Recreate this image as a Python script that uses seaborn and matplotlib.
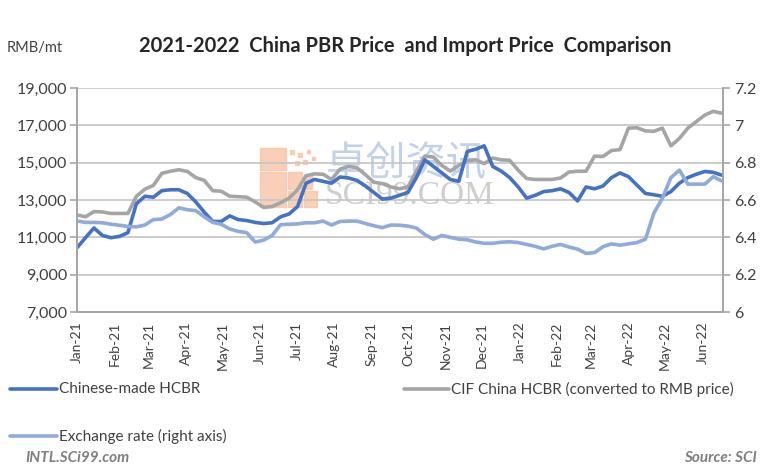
import numpy as np
import pandas as pd
import seaborn as sns
import matplotlib.pyplot as plt
import matplotlib.dates as mdates
from matplotlib.lines import Line2D
from matplotlib.patches import Rectangle
from matplotlib.ticker import FixedLocator, FuncFormatter

# weekly prices, Jan 1 2021 to Jun 17 2022
dates = pd.date_range("2021-01-01", periods=77, freq="7D")

chinese_made = [10440, 10980, 11500, 11100, 10980, 11050, 11250, 12800, 13200, 13150,
                13500, 13550, 13550, 13350, 12900, 12350, 11850, 11850, 12150, 11950,
                11900, 11800, 11740, 11780, 12100, 12250, 12650, 13900, 14100, 14000,
                13900, 14230, 14180, 14050, 13750, 13400, 13050, 13100, 13250, 13400,
                14200, 15150, 14800, 14450, 14100, 14000, 15600, 15720, 15900, 14800,
                14550, 14200, 13700, 13100, 13250, 13450, 13500, 13600, 13400, 12950,
                13700, 13600, 13750, 14200, 14450, 14250, 13800, 13350, 13280, 13200,
                13450, 13900, 14200, 14380, 14530, 14480, 14330]

cif_china = [12200, 12100, 12380, 12360, 12280, 12280, 12280, 13200, 13580, 13780,
             14430, 14540, 14620, 14530, 14200, 14050, 13500, 13470, 13200, 13180,
             13150, 12900, 12600, 12650, 12850, 13100, 13550, 14300, 14400, 14380,
             14100, 14650, 14800, 14730, 14350, 13950, 13880, 13700, 13600, 13700,
             14550, 15350, 15300, 14850, 14550, 14850, 15100, 15150, 14950, 15250,
             15150, 15130, 14600, 14150, 14100, 14100, 14100, 14180, 14500, 14540,
             14540, 15350, 15330, 15650, 15700, 16850, 16870, 16700, 16680, 16850,
             15900, 16300, 16850, 17200, 17550, 17750, 17650]

exchange_rate = [6.488, 6.480, 6.480, 6.478, 6.470, 6.465, 6.458, 6.456, 6.466, 6.495,
                 6.498, 6.522, 6.558, 6.548, 6.543, 6.510, 6.480, 6.470, 6.445, 6.432,
                 6.425, 6.375, 6.385, 6.410, 6.468, 6.470, 6.472, 6.478, 6.478, 6.487,
                 6.466, 6.485, 6.487, 6.487, 6.474, 6.462, 6.452, 6.466, 6.465, 6.460,
                 6.450, 6.415, 6.390, 6.410, 6.400, 6.390, 6.387, 6.375, 6.368, 6.368,
                 6.374, 6.376, 6.372, 6.362, 6.352, 6.338, 6.352, 6.362, 6.348, 6.337,
                 6.314, 6.318, 6.350, 6.365, 6.358, 6.365, 6.372, 6.390, 6.530, 6.610,
                 6.720, 6.760, 6.685, 6.685, 6.685, 6.725, 6.702]

left_ticks = [7000, 9000, 11000, 13000, 15000, 17000, 19000]
right_ticks = [6.0, 6.2, 6.4, 6.6, 6.8, 7.0, 7.2]

labels = ["Chinese-made HCBR", "CIF China HCBR (converted to RMB price)", "Exchange rate (right axis)"]
colors = ["#4472C4", "#A5A5A5", "#8FAADC"]

df = pd.DataFrame({"date": dates, "chinese": chinese_made, "cif": cif_china, "fx": exchange_rate})

sns.set_style("white")
plt.rcParams["font.family"] = ["Lato", "DejaVu Sans"]
txt = "#404040"
axis_col = "#A6A6A6"

W, H = 768, 472
fig = plt.figure(figsize=(W / 100, H / 100), dpi=100)


def fx_(px):
    return px / W


def fy_(py):
    return 1 - py / H


ax = fig.add_axes([fx_(77), fy_(312), fx_(723) - fx_(77), fy_(88) - fy_(312)])
ax.patch.set_alpha(0)

# watermark, kept behind the axes
wm = "#F8C3A5"
for (x0, y0, w, h) in [(260, 148, 26, 22), (260, 172, 26, 35), (288, 172, 14, 17),
                       (288, 191, 14, 16), (304, 191, 13, 16), (304, 175, 8, 14),
                       (290, 150, 4, 4), (298, 153, 4, 4), (307, 150, 3, 3),
                       (295, 161, 4, 4), (303, 160, 4, 4), (312, 157, 3, 3)]:
    fig.patches.append(Rectangle((fx_(x0), fy_(y0 + h)), fx_(w), h / H,
                                 transform=fig.transFigure, color=wm, alpha=0.8, zorder=-5))
fig.text(fx_(326), fy_(163), "卓创资讯", family=["Noto Sans CJK SC"], fontsize=29,
         color="#B4C7E7", alpha=0.8, va="center", ha="left", zorder=-5)
fig.text(fx_(325), fy_(196), "SCI99.COM", family=["Liberation Serif"], fontsize=24,
         color="#CFCFCF", va="center", ha="left", zorder=-5)

sns.lineplot(data=df, x="date", y="chinese", ax=ax, color=colors[0], lw=2.6, zorder=3)
sns.lineplot(data=df, x="date", y="cif", ax=ax, color=colors[1], lw=2.6, zorder=2)

ax2 = ax.twinx()
ax2.patch.set_alpha(0)
sns.lineplot(data=df, x="date", y="fx", ax=ax2, color=colors[2], lw=2.6)

ax.set_ylim(7000, 19000)
ax2.set_ylim(6.0, 7.2)
ax.set_xlim(pd.Timestamp("2021-01-01"), pd.Timestamp("2022-06-18"))

ax.yaxis.set_major_locator(FixedLocator(left_ticks))
ax.yaxis.set_major_formatter(FuncFormatter(lambda v, p: f"{v:,.0f}"))
ax2.yaxis.set_major_locator(FixedLocator(right_ticks))
ax2.yaxis.set_major_formatter(FuncFormatter(lambda v, p: f"{v:g}"))

ax.xaxis.set_major_locator(mdates.MonthLocator())
ax.xaxis.set_major_formatter(mdates.DateFormatter("%b-%y"))
plt.setp(ax.get_xticklabels(), rotation=90, ha="center", va="top")

ax.grid(axis="y", color="#C8C8C8", lw=1.3)
ax.set_axisbelow(True)
ax.set_xlabel("")
ax.set_ylabel("")
ax2.set_ylabel("")

for a in (ax, ax2):
    for s in a.spines.values():
        s.set_color(axis_col)
        s.set_linewidth(1.4)
    a.spines["top"].set_visible(False)
ax.tick_params(axis="y", length=5, width=1.2, color=axis_col, labelsize=11.5, labelcolor=txt, pad=2)
ax.tick_params(axis="x", length=5, width=1.2, color=axis_col, labelsize=10, labelcolor=txt, pad=2)
ax2.tick_params(axis="y", length=5, width=1.2, color=axis_col, labelsize=11.5, labelcolor=txt, pad=3)

fig.text(fx_(405), fy_(46), "2021-2022  China PBR Price  and Import Price  Comparison",
         ha="center", va="center", fontsize=14.5, fontweight="bold", color="#262626")
fig.text(fx_(7), fy_(48), "RMB/mt", ha="left", va="center", fontsize=10.5, color=txt)

# legend entries placed like the original
for (lx0, lx1, ly), lab, col in zip([(10, 57, 389), (404, 449, 389), (10, 57, 436)], labels, colors):
    fig.add_artist(Line2D([fx_(lx0), fx_(lx1)], [fy_(ly), fy_(ly)], transform=fig.transFigure,
                          color=col, lw=2.6))
    fig.text(fx_(lx1 + 2), fy_(ly), lab, ha="left", va="center", fontsize=11, color=txt)

fig.text(fx_(25), fy_(458), "INTL.SCi99.com", ha="left", va="center", fontsize=11,
         fontweight="bold", style="italic", color="#7F7F7F")
fig.text(fx_(757), fy_(458), "Source: SCI", ha="right", va="center", fontsize=11,
         fontweight="bold", style="italic", color="#7F7F7F")

fig.savefig("out.png", dpi=100)
